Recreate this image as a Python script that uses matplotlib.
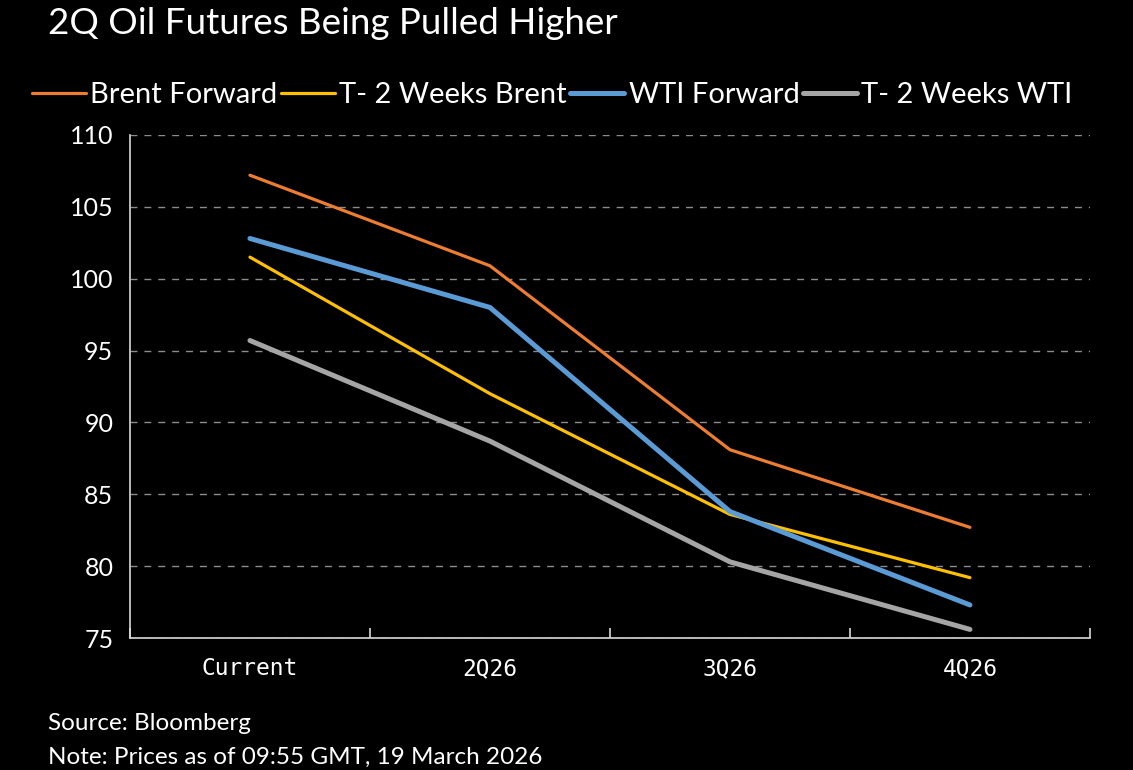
import matplotlib.pyplot as plt
from matplotlib.ticker import FixedLocator

# data
quarters = ['Current', '2Q26', '3Q26', '4Q26']
brent_fwd = [107.2, 100.9, 88.1, 82.7]
brent_2w = [101.5, 92.0, 83.6, 79.2]
wti_fwd = [102.8, 98.0, 83.8, 77.3]
wti_2w = [95.7, 88.7, 80.3, 75.6]

series_names = ['Brent Forward', 'T- 2 Weeks Brent', 'WTI Forward', 'T- 2 Weeks WTI']
series_vals = [brent_fwd, brent_2w, wti_fwd, wti_2w]
colors = ['#ED7D31', '#FFC000', '#5B9BD5', '#A5A5A5']
widths = [2.3, 2.3, 3.6, 3.6]

plt.rcParams['font.family'] = ['Lato', 'DejaVu Sans']

fig = plt.figure(figsize=(11.33, 7.7), dpi=100, facecolor='black')
ax = fig.add_axes([0.1147, 0.1714, 0.8473, 0.6533], facecolor='black')

x = range(len(quarters))
for name, vals, c, w in zip(series_names, series_vals, colors, widths):
    ax.plot(x, vals, color=c, lw=w, label=name, solid_capstyle='round')

ax.set_xlim(-0.5, 3.5)
ax.set_ylim(75, 110)
ax.set_yticks(range(75, 111, 5))
ax.set_xticks(list(x))
ax.set_xticklabels(quarters, family='DejaVu Sans Mono', fontsize=16.5, color='white')
ax.xaxis.set_minor_locator(FixedLocator([-0.5, 0.5, 1.5, 2.5, 3.5]))
ax.tick_params(axis='x', which='major', length=0, pad=14)
ax.tick_params(axis='x', which='minor', direction='in', length=7, color='#d9d9d9', width=1.2)
ax.tick_params(axis='y', length=0, labelsize=18, labelcolor='white', pad=12)

ax.yaxis.grid(True, linestyle=(0, (5, 5)), color='#8c8c8c', lw=1)
for s in ['top', 'right']:
    ax.spines[s].set_visible(False)
for s in ['left', 'bottom']:
    ax.spines[s].set_color('#d9d9d9')
    ax.spines[s].set_linewidth(1.2)

fig.text(0.042, 0.969, '2Q Oil Futures Being Pulled Higher', color='white',
         fontsize=26.5, va='center', ha='left')

leg = fig.legend(loc='center left', bbox_to_anchor=(0.005, 0.876), ncol=4,
                 frameon=False, fontsize=21, handlelength=1.85, handletextpad=0.15,
                 columnspacing=0.12, labelcolor='white')

fig.text(0.042, 0.061, 'Source: Bloomberg', color='white', fontsize=17.5, va='center')
fig.text(0.042, 0.017, 'Note: Prices as of 09:55 GMT, 19 March 2026', color='white',
         fontsize=17.5, va='center')

fig.savefig('out.png', dpi=100, facecolor='black')
